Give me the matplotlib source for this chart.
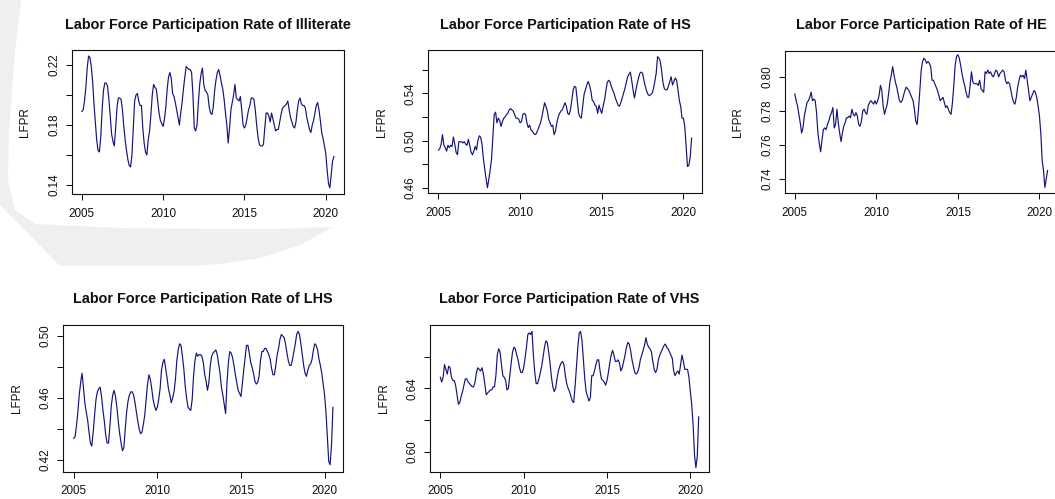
import matplotlib
matplotlib.use("Agg")
import matplotlib.pyplot as plt
import numpy as np
from matplotlib.patches import Polygon

plt.rcParams['font.family'] = ['Liberation Sans', 'DejaVu Sans']

# ---------------- data (monthly, Jan 2005 .. Jul 2020) ----------------
START_YEAR = 2005
x_ticks = [2005, 2010, 2015, 2020]
ylabel = "LFPR"

titles = ["Labor Force Participation Rate of Illiterate",
          "Labor Force Participation Rate of HS",
          "Labor Force Participation Rate of HE",
          "Labor Force Participation Rate of LHS",
          "Labor Force Participation Rate of VHS"]

illiterate = [
    0.189, 0.190, 0.196, 0.205, 0.218, 0.226, 0.225, 0.219, 0.209, 0.194, 0.182, 0.170,  # 2005
    0.163, 0.162, 0.172, 0.190, 0.203, 0.208, 0.208, 0.206, 0.197, 0.186, 0.174, 0.169,  # 2006
    0.166, 0.178, 0.192, 0.198, 0.198, 0.197, 0.190, 0.179, 0.170, 0.163, 0.157, 0.153,  # 2007
    0.152, 0.160, 0.178, 0.196, 0.200, 0.201, 0.196, 0.193, 0.193, 0.178, 0.168, 0.162,  # 2008
    0.160, 0.170, 0.176, 0.187, 0.200, 0.207, 0.205, 0.204, 0.196, 0.188, 0.183, 0.181,  # 2009
    0.179, 0.184, 0.192, 0.204, 0.212, 0.215, 0.211, 0.201, 0.199, 0.195, 0.190, 0.185,  # 2010
    0.180, 0.188, 0.195, 0.204, 0.212, 0.219, 0.218, 0.217, 0.217, 0.215, 0.200, 0.178,  # 2011
    0.176, 0.180, 0.195, 0.207, 0.214, 0.218, 0.207, 0.203, 0.202, 0.200, 0.192, 0.188,  # 2012
    0.187, 0.192, 0.203, 0.210, 0.215, 0.217, 0.213, 0.208, 0.204, 0.197, 0.188, 0.180,  # 2013
    0.168, 0.178, 0.190, 0.195, 0.200, 0.207, 0.198, 0.197, 0.196, 0.199, 0.190, 0.180,  # 2014
    0.178, 0.180, 0.185, 0.190, 0.193, 0.198, 0.198, 0.197, 0.190, 0.180, 0.172, 0.167,  # 2015
    0.166, 0.166, 0.167, 0.178, 0.188, 0.188, 0.186, 0.182, 0.188, 0.184, 0.180, 0.176,  # 2016
    0.177, 0.177, 0.182, 0.187, 0.191, 0.192, 0.193, 0.194, 0.196, 0.190, 0.185, 0.182,  # 2017
    0.179, 0.178, 0.182, 0.190, 0.196, 0.198, 0.194, 0.193, 0.193, 0.191, 0.185, 0.181,  # 2018
    0.177, 0.175, 0.180, 0.183, 0.188, 0.193, 0.195, 0.190, 0.183, 0.175, 0.171, 0.166,  # 2019
    0.161, 0.150, 0.141, 0.138, 0.147, 0.156, 0.159,                                     # 2020
]

hs = [
    0.492, 0.493, 0.497, 0.505, 0.496, 0.494, 0.491, 0.496, 0.494, 0.496, 0.495, 0.503,  # 2005
    0.497, 0.490, 0.488, 0.499, 0.499, 0.499, 0.498, 0.499, 0.497, 0.496, 0.501, 0.496,  # 2006
    0.490, 0.488, 0.491, 0.495, 0.492, 0.500, 0.504, 0.503, 0.497, 0.485, 0.476, 0.468,  # 2007
    0.460, 0.467, 0.475, 0.484, 0.503, 0.522, 0.524, 0.515, 0.519, 0.517, 0.512, 0.516,  # 2008
    0.519, 0.520, 0.522, 0.523, 0.526, 0.527, 0.526, 0.525, 0.522, 0.519, 0.519, 0.518,  # 2009
    0.515, 0.516, 0.522, 0.523, 0.522, 0.515, 0.511, 0.513, 0.509, 0.508, 0.506, 0.505,  # 2010
    0.506, 0.509, 0.512, 0.515, 0.520, 0.526, 0.532, 0.529, 0.525, 0.518, 0.515, 0.512,  # 2011
    0.513, 0.505, 0.508, 0.515, 0.520, 0.523, 0.525, 0.526, 0.529, 0.532, 0.529, 0.523,  # 2012
    0.522, 0.526, 0.534, 0.543, 0.546, 0.545, 0.534, 0.523, 0.520, 0.519, 0.529, 0.539,  # 2013
    0.543, 0.547, 0.550, 0.547, 0.542, 0.534, 0.533, 0.530, 0.529, 0.523, 0.530, 0.526,  # 2014
    0.523, 0.529, 0.534, 0.542, 0.549, 0.551, 0.550, 0.546, 0.543, 0.540, 0.536, 0.533,  # 2015
    0.530, 0.529, 0.532, 0.536, 0.540, 0.544, 0.549, 0.554, 0.556, 0.558, 0.551, 0.543,  # 2016
    0.536, 0.542, 0.548, 0.553, 0.557, 0.558, 0.557, 0.551, 0.546, 0.542, 0.539, 0.538,  # 2017
    0.539, 0.540, 0.544, 0.550, 0.557, 0.571, 0.570, 0.567, 0.559, 0.549, 0.544, 0.543,  # 2018
    0.543, 0.546, 0.550, 0.554, 0.547, 0.550, 0.553, 0.551, 0.543, 0.534, 0.529, 0.519,  # 2019
    0.519, 0.512, 0.495, 0.478, 0.479, 0.486, 0.502,                                     # 2020
]

he = [
    0.790, 0.786, 0.783, 0.778, 0.773, 0.767, 0.770, 0.777, 0.781, 0.785, 0.786, 0.788,  # 2005
    0.791, 0.786, 0.787, 0.786, 0.779, 0.767, 0.761, 0.756, 0.763, 0.769, 0.770, 0.769,  # 2006
    0.772, 0.774, 0.777, 0.779, 0.782, 0.770, 0.772, 0.781, 0.773, 0.767, 0.762, 0.767,  # 2007
    0.771, 0.773, 0.776, 0.776, 0.777, 0.776, 0.781, 0.778, 0.777, 0.779, 0.777, 0.772,  # 2008
    0.771, 0.774, 0.780, 0.781, 0.779, 0.778, 0.783, 0.785, 0.786, 0.785, 0.784, 0.786,  # 2009
    0.784, 0.786, 0.789, 0.795, 0.792, 0.783, 0.778, 0.781, 0.784, 0.790, 0.797, 0.801,  # 2010
    0.806, 0.801, 0.797, 0.794, 0.790, 0.786, 0.785, 0.786, 0.789, 0.792, 0.794, 0.793,  # 2011
    0.792, 0.790, 0.788, 0.786, 0.781, 0.774, 0.772, 0.781, 0.792, 0.804, 0.809, 0.811,  # 2012
    0.810, 0.808, 0.809, 0.808, 0.806, 0.798, 0.798, 0.796, 0.794, 0.792, 0.789, 0.786,  # 2013
    0.787, 0.788, 0.785, 0.782, 0.783, 0.781, 0.779, 0.778, 0.785, 0.795, 0.807, 0.812,  # 2014
    0.813, 0.811, 0.807, 0.802, 0.798, 0.795, 0.791, 0.788, 0.788, 0.795, 0.803, 0.797,  # 2015
    0.796, 0.796, 0.796, 0.795, 0.798, 0.793, 0.792, 0.791, 0.803, 0.802, 0.804, 0.802,  # 2016
    0.803, 0.801, 0.800, 0.802, 0.804, 0.803, 0.800, 0.802, 0.803, 0.804, 0.803, 0.798,  # 2017
    0.796, 0.797, 0.796, 0.792, 0.788, 0.785, 0.784, 0.788, 0.794, 0.798, 0.801, 0.800,  # 2018
    0.801, 0.799, 0.804, 0.798, 0.792, 0.786, 0.788, 0.790, 0.792, 0.791, 0.788, 0.783,  # 2019
    0.777, 0.767, 0.751, 0.745, 0.735, 0.740, 0.745,                                     # 2020
]

lhs = [
    0.434, 0.435, 0.442, 0.451, 0.462, 0.470, 0.476, 0.467, 0.457, 0.451, 0.446, 0.438,  # 2005
    0.431, 0.429, 0.438, 0.449, 0.459, 0.464, 0.466, 0.467, 0.461, 0.452, 0.445, 0.436,  # 2006
    0.431, 0.431, 0.442, 0.455, 0.462, 0.465, 0.461, 0.454, 0.445, 0.437, 0.431, 0.426,  # 2007
    0.428, 0.440, 0.451, 0.458, 0.462, 0.464, 0.464, 0.462, 0.457, 0.451, 0.445, 0.440,  # 2008
    0.437, 0.438, 0.443, 0.449, 0.459, 0.469, 0.475, 0.472, 0.466, 0.459, 0.455, 0.452,  # 2009
    0.454, 0.459, 0.466, 0.478, 0.483, 0.485, 0.479, 0.473, 0.466, 0.462, 0.457, 0.460,  # 2010
    0.464, 0.472, 0.484, 0.491, 0.495, 0.494, 0.487, 0.479, 0.468, 0.460, 0.454, 0.453,  # 2011
    0.452, 0.459, 0.474, 0.484, 0.489, 0.487, 0.488, 0.488, 0.487, 0.483, 0.475, 0.471,  # 2012
    0.465, 0.470, 0.481, 0.487, 0.489, 0.490, 0.491, 0.488, 0.482, 0.476, 0.467, 0.462,  # 2013
    0.456, 0.450, 0.470, 0.483, 0.490, 0.489, 0.486, 0.481, 0.475, 0.470, 0.465, 0.463,  # 2014
    0.461, 0.469, 0.478, 0.486, 0.494, 0.494, 0.489, 0.483, 0.480, 0.476, 0.471, 0.469,  # 2015
    0.470, 0.474, 0.484, 0.490, 0.490, 0.492, 0.492, 0.490, 0.488, 0.485, 0.479, 0.475,  # 2016
    0.475, 0.481, 0.488, 0.492, 0.498, 0.501, 0.500, 0.499, 0.495, 0.489, 0.484, 0.481,  # 2017
    0.481, 0.485, 0.490, 0.495, 0.501, 0.503, 0.501, 0.495, 0.488, 0.481, 0.476, 0.474,  # 2018
    0.478, 0.481, 0.482, 0.485, 0.491, 0.495, 0.494, 0.491, 0.485, 0.481, 0.476, 0.469,  # 2019
    0.462, 0.451, 0.435, 0.419, 0.417, 0.430, 0.454,                                     # 2020
]

vhs = [
    0.647, 0.644, 0.647, 0.655, 0.652, 0.649, 0.654, 0.653, 0.647, 0.645, 0.645, 0.642,  # 2005
    0.636, 0.630, 0.631, 0.635, 0.638, 0.642, 0.646, 0.646, 0.644, 0.643, 0.642, 0.641,  # 2006
    0.641, 0.644, 0.650, 0.653, 0.652, 0.651, 0.653, 0.649, 0.643, 0.636, 0.637, 0.638,  # 2007
    0.639, 0.639, 0.641, 0.641, 0.648, 0.661, 0.665, 0.663, 0.655, 0.648, 0.647, 0.645,  # 2008
    0.639, 0.640, 0.648, 0.656, 0.663, 0.666, 0.665, 0.661, 0.658, 0.653, 0.650, 0.650,  # 2009
    0.653, 0.659, 0.666, 0.674, 0.675, 0.674, 0.676, 0.661, 0.650, 0.643, 0.643, 0.646,  # 2010
    0.650, 0.654, 0.660, 0.666, 0.670, 0.669, 0.663, 0.656, 0.647, 0.641, 0.638, 0.640,  # 2011
    0.646, 0.651, 0.654, 0.656, 0.657, 0.655, 0.648, 0.643, 0.640, 0.638, 0.635, 0.632,  # 2012
    0.631, 0.641, 0.654, 0.666, 0.675, 0.676, 0.670, 0.658, 0.646, 0.638, 0.635, 0.632,  # 2013
    0.634, 0.648, 0.648, 0.651, 0.655, 0.658, 0.658, 0.651, 0.646, 0.645, 0.644, 0.642,  # 2014
    0.645, 0.650, 0.656, 0.661, 0.664, 0.661, 0.657, 0.657, 0.658, 0.656, 0.651, 0.653,  # 2015
    0.657, 0.661, 0.666, 0.669, 0.668, 0.664, 0.658, 0.654, 0.650, 0.649, 0.650, 0.653,  # 2016
    0.658, 0.661, 0.664, 0.667, 0.672, 0.668, 0.666, 0.665, 0.663, 0.657, 0.652, 0.650,  # 2017
    0.652, 0.658, 0.661, 0.663, 0.665, 0.667, 0.668, 0.666, 0.665, 0.663, 0.661, 0.659,  # 2018
    0.651, 0.648, 0.650, 0.651, 0.649, 0.655, 0.661, 0.657, 0.652, 0.652, 0.652, 0.647,  # 2019
    0.638, 0.630, 0.617, 0.598, 0.590, 0.597, 0.622,                                     # 2020
]

series = [illiterate, hs, he, lhs, vhs]

y_ticks = [[0.14, 0.16, 0.18, 0.20, 0.22],
           [0.46, 0.48, 0.50, 0.52, 0.54, 0.56],
           [0.74, 0.76, 0.78, 0.80],
           [0.42, 0.44, 0.46, 0.48, 0.50],
           [0.60, 0.62, 0.64, 0.66]]
y_ticklabels = [["0.14", "", "0.18", "", "0.22"],
                ["0.46", "", "0.50", "", "0.54", ""],
                ["0.74", "0.76", "0.78", "0.80"],
                ["0.42", "", "0.46", "", "0.50"],
                ["0.60", "", "0.64", ""]]

# ---------------- layout (pixel boxes: left, top, right, bottom) ----------------
W, H = 1055, 499
boxes = [(71.7, 50, 344, 194),
         (428.3, 50, 701.7, 193.3),
         (784.7, 50.5, 1057.7, 193.3),
         (63.3, 325, 343.3, 471.7),
         (430, 325, 709, 471.7)]
ylims = [(0.134, 0.230), (0.4553, 0.5767), (0.7316, 0.8155),
         (0.4125, 0.5071), (0.5874, 0.680)]
title_base = [29.5, 29.5, 29.5, 303, 303]

fig = plt.figure(figsize=(W / 100, H / 100), dpi=100)
fig.patch.set_facecolor("white")

# faint watermark crescent (background decoration)
bg = fig.add_axes([0, 0, 1, 1], zorder=0)
bg.set_xlim(0, W)
bg.set_ylim(H, 0)
bg.axis("off")
wm = [(0, -5), (22, -5), (15, 50), (9, 130), (8, 180), (15, 210), (35, 224),
      (120, 228), (200, 229), (280, 229), (333, 227), (300, 245), (260, 258),
      (220, 264), (187, 266), (60, 266), (0, 205)]
bg.add_patch(Polygon(wm, closed=True, facecolor="#efefef", edgecolor="none"))

line_color = "#14147a"
for i, vals in enumerate(series):
    L, T, R, B = boxes[i]
    ax = fig.add_axes([L / W, 1 - B / H, (R - L) / W, (B - T) / H], zorder=1)
    ax.patch.set_alpha(0)
    t = START_YEAR + np.arange(len(vals)) / 12.0
    ax.plot(t, vals, color=line_color, lw=0.85)
    ax.set_xlim(2005 - 0.04 * 15.5, 2020.5 + 0.04 * 15.5)
    ax.set_ylim(*ylims[i])
    ax.set_xticks(x_ticks)
    ax.set_xticklabels([str(v) for v in x_ticks])
    ax.set_yticks(y_ticks[i])
    ax.set_yticklabels(y_ticklabels[i])
    ax.tick_params(direction="out", length=4.3, width=0.75, colors="#111111",
                   labelsize=8.4)
    ax.tick_params(axis="x", pad=5.5)
    ax.tick_params(axis="y", pad=4)
    for lab in ax.get_yticklabels():
        lab.set_rotation(90)
        lab.set_va("center")
    for sp in ax.spines.values():
        sp.set_linewidth(0.8)
        sp.set_color("#111111")
    # title and y-label
    fig.text(((L + R) / 2) / W, 1 - title_base[i] / H, titles[i], ha="center",
             va="baseline", fontsize=10.4, fontweight="bold", color="#111111")
    fig.text((L - 46.5) / W, 1 - ((T + B) / 2) / H, ylabel, rotation=90,
             ha="center", va="center", fontsize=8.4, color="#111111")

fig.savefig("out.png", dpi=100)
